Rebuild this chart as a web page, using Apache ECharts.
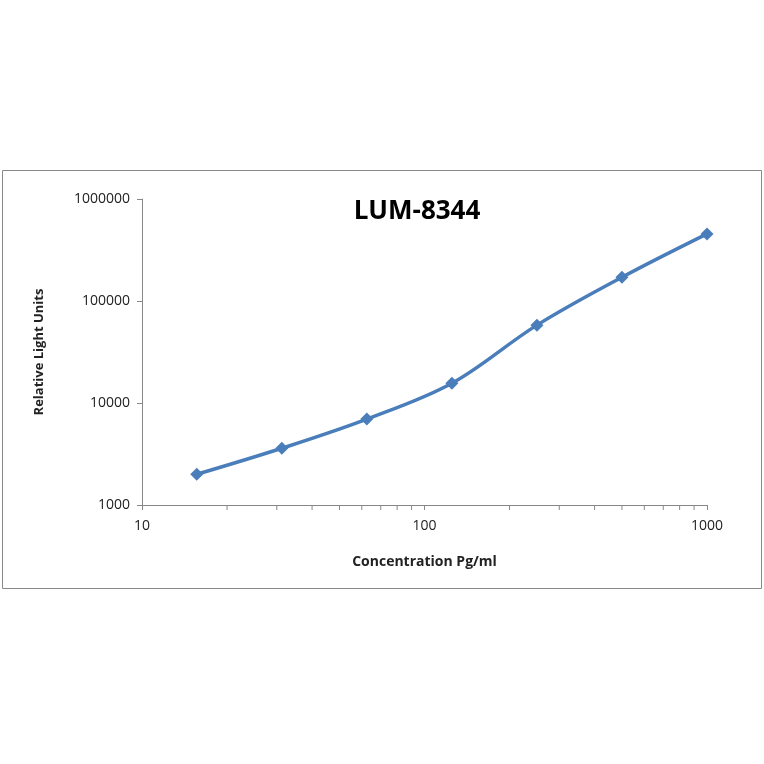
<!DOCTYPE html>
<html><head><meta charset="utf-8">
<script src="https://cdn.jsdelivr.net/npm/echarts@6/dist/echarts.min.js"></script>
<style>html,body{margin:0;padding:0;background:#fff}#c{width:764px;height:764px}</style>
</head><body><div id="c"></div>
<script>
const concentrations = [15.625, 31.25, 62.5, 125, 250, 500, 1000];
const rlu = [2000, 3600, 6950, 15600, 58000, 171000, 455000];
const minorX = [20,30,40,50,60,70,80,90,200,300,400,500,600,700,800,900];
const chart = echarts.init(document.getElementById('c'));
chart.setOption({
  animation:false,
  graphic:[{type:'rect',shape:{x:2.5,y:170.5,width:759,height:418},style:{fill:'none',stroke:'#888',lineWidth:1}}],
  title:{text:'LUM-8344',left:412,top:194,textAlign:'center',textStyle:{fontFamily:'Open Sans',fontSize:26,fontWeight:'bold',color:'#000'}},
  grid:{left:142,right:57,top:199,bottom:259},
  xAxis:{type:'log',min:10,max:1000,logBase:10,name:'Concentration Pg/ml',nameLocation:'middle',nameGap:50,
    nameTextStyle:{fontFamily:'Open Sans',fontSize:14,fontWeight:'bold',color:'#222'},
    axisLine:{lineStyle:{color:'#888'}},axisTick:{show:true,length:5,lineStyle:{color:'#888'}},
    axisLabel:{fontFamily:'Open Sans',fontSize:14,color:'#222',margin:14,formatter:v=>String(Math.round(v))},splitLine:{show:false}},
  yAxis:{type:'log',min:1000,max:1000000,logBase:10,name:'Relative Light Units',nameLocation:'middle',nameGap:96,
    nameTextStyle:{fontFamily:'Open Sans',fontSize:13,fontWeight:'bold',color:'#222'},
    axisLine:{show:true,lineStyle:{color:'#888'}},axisTick:{show:true,length:5,lineStyle:{color:'#888'}},
    axisLabel:{fontFamily:'Open Sans',fontSize:14,color:'#222',margin:12,formatter:v=>String(Math.round(v))},splitLine:{show:false}},
  series:[
    {type:'custom',silent:true,data:minorX.map(v=>[v,1000]),
     renderItem:(p,api)=>{const pt=api.coord([api.value(0),api.value(1)]);
       return {type:'line',shape:{x1:pt[0],y1:pt[1],x2:pt[0],y2:pt[1]+5},style:{stroke:'#888',lineWidth:1}};}},
    {type:'line',smooth:0.35,data:concentrations.map((c,i)=>[c,rlu[i]]),
     symbol:'diamond',symbolSize:13,lineStyle:{color:'#4a7ebb',width:3.5},itemStyle:{color:'#4a7ebb'}}
  ]
});
</script></body></html>
